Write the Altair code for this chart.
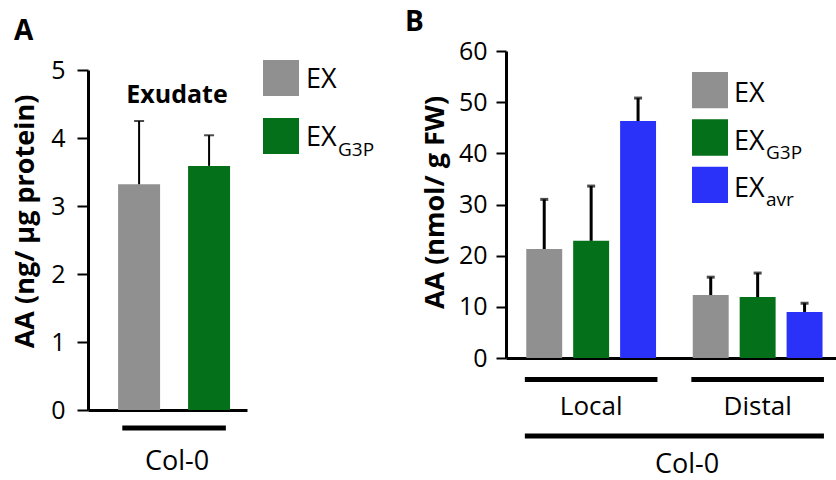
import altair as alt
import pandas as pd

# ---------------- data ----------------
A_treat = ["EX", "EX_G3P"]
A_mean = [3.32, 3.59]
A_err = [0.93, 0.45]
A_ticks = [0, 1, 2, 3, 4, 5]

B_site = ["Local", "Local", "Local", "Distal", "Distal", "Distal"]
B_treat = ["EX", "EX_G3P", "EX_avr", "EX", "EX_G3P", "EX_avr"]
B_mean = [21.3, 22.9, 46.3, 12.3, 11.9, 9.0]
B_err = [9.7, 10.7, 4.5, 3.5, 4.7, 1.7]
B_ticks = [0, 10, 20, 30, 40, 50, 60]
sites = ["Local", "Distal"]

treat_order = ["EX", "EX_G3P", "EX_avr"]
treat_colors = ["#909090", "#047019", "#2a32fa"]
leg_main = ["EX", "EX", "EX"]
leg_sub = ["", "G3P", "avr"]

FONT = "Open Sans"
BLACK = "#000000"

color = alt.Color("treat:N", scale=alt.Scale(domain=treat_order, range=treat_colors), legend=None)

# ---------------- panel A ----------------
dfA = pd.DataFrame({"treat": A_treat, "mean": A_mean, "err": A_err})

scaleAx = alt.Scale(domain=A_treat, range=[88, 247], paddingInner=0.4, paddingOuter=0.336, align=0.64)
axisAx = alt.Axis(orient="bottom", offset=-70, labels=False, ticks=False, title=None,
                  domainColor=BLACK, domainWidth=3, grid=False)
scaleAy = alt.Scale(domain=[0, 5], range=[410, 70], nice=False, zero=True)
axisAy = alt.Axis(orient="left", offset=-88, values=A_ticks, grid=False,
                  domainColor=BLACK, domainWidth=3, tickColor=BLACK, tickWidth=2, tickSize=11,
                  labelFont=FONT, labelFontSize=25, labelColor=BLACK, labelPadding=12,
                  title="AA (ng/ µg protein)", titleFont=FONT, titleFontSize=27,
                  titleFontWeight="bold", titleColor=BLACK, titleAngle=270,
                  titleX=-55, titleY=221, titleAlign="center", titleBaseline="alphabetic")


def xA(field, **kw):
    return alt.X(field, scale=scaleAx, axis=axisAx, sort=A_treat, **kw)


def yA(field):
    return alt.Y(field, scale=scaleAy, axis=axisAy)


barsA = alt.Chart(dfA).mark_bar().encode(x=xA("treat:N"), y=yA("mean:Q"), color=color)
errA = alt.Chart(dfA).transform_calculate(up="datum.mean + datum.err").mark_rule(
    color=BLACK, strokeWidth=2).encode(x=xA("treat:N"), y=yA("mean:Q"), y2="up:Q")
capA = alt.Chart(dfA).transform_calculate(up="datum.mean + datum.err").mark_tick(
    color=BLACK, size=10, thickness=2).encode(x=xA("treat:N"), y=yA("up:Q"))

underA = alt.Chart(pd.DataFrame({"s": [A_treat[0]], "e": [A_treat[-1]]})).mark_rule(
    color=BLACK, strokeWidth=5).encode(
    x=xA("s:N", bandPosition=0.1), x2=alt.X2("e:N", bandPosition=0.9), y=alt.value(428))

one = pd.DataFrame({"k": [0]})
titleA = alt.Chart(one).mark_text(text="Exudate", font=FONT, fontSize=25, fontWeight="bold",
                                  color=BLACK, align="center", baseline="alphabetic").encode(
    x=alt.value(177), y=alt.value(103))
colA = alt.Chart(one).mark_text(text="Col-0", font=FONT, fontSize=27, color=BLACK,
                                align="center", baseline="alphabetic").encode(
    x=alt.value(177), y=alt.value(470))
letA = alt.Chart(one).mark_text(text="A", font=FONT, fontSize=28, fontWeight="bold",
                                color=BLACK, align="left", baseline="alphabetic").encode(
    x=alt.value(14), y=alt.value(40))

A_main = alt.layer(barsA, errA, capA, underA, titleA, colA, letA)

# legend A
dfLA = pd.DataFrame({"treat": A_treat, "main": leg_main[:2], "sub": leg_sub[:2]})
yLA = alt.Y("treat:N", sort=A_treat, axis=None,
            scale=alt.Scale(domain=A_treat, range=[60, 154], paddingInner=0.38, paddingOuter=0))
sqA = alt.Chart(dfLA).mark_rect().encode(x=alt.value(263), x2=alt.value(299), y=yLA, color=color)
txA = alt.Chart(dfLA).mark_text(font=FONT, fontSize=27, color=BLACK, align="left",
                                baseline="middle", dy=2).encode(x=alt.value(306), y=yLA, text="main:N")
sbA = alt.Chart(dfLA).mark_text(font=FONT, fontSize=19, color=BLACK, align="left",
                                baseline="middle", dy=14).encode(x=alt.value(338), y=yLA, text="sub:N")
A_leg = alt.layer(sqA, txA, sbA)

# ---------------- panel B ----------------
dfB = pd.DataFrame({"site": B_site, "treat": B_treat, "mean": B_mean, "err": B_err})

scaleBx = alt.Scale(domain=sites, range=[506, 836], paddingInner=0.2036, paddingOuter=0.0928, align=0.61)
axisBx = alt.Axis(orient="bottom", offset=-122, labels=False, ticks=False, title=None,
                  domainColor=BLACK, domainWidth=3, grid=False)
scaleBy = alt.Scale(domain=[0, 60], range=[358, 51], nice=False, zero=True)
axisBy = alt.Axis(orient="left", offset=-506, values=B_ticks, grid=False,
                  domainColor=BLACK, domainWidth=3, tickColor=BLACK, tickWidth=2, tickSize=10,
                  labelFont=FONT, labelFontSize=25, labelColor=BLACK, labelPadding=9,
                  title="AA (nmol/ g FW)", titleFont=FONT, titleFontSize=27,
                  titleFontWeight="bold", titleColor=BLACK, titleAngle=270,
                  titleX=-63, titleY=202, titleAlign="center", titleBaseline="alphabetic")
xOffB = alt.XOffset("treat:N", sort=treat_order,
                    scale=alt.Scale(domain=treat_order, paddingInner=0.234, paddingOuter=0.03))


def xB(field, **kw):
    return alt.X(field, scale=scaleBx, axis=axisBx, sort=sites, **kw)


def yB(field):
    return alt.Y(field, scale=scaleBy, axis=axisBy)


barsB = alt.Chart(dfB).mark_bar().encode(x=xB("site:N"), xOffset=xOffB, y=yB("mean:Q"), color=color)
errB = alt.Chart(dfB).transform_calculate(up="datum.mean + datum.err").mark_rule(
    color=BLACK, strokeWidth=3).encode(x=xB("site:N"), xOffset=xOffB, y=yB("mean:Q"), y2="up:Q")
capB = alt.Chart(dfB).transform_calculate(up="datum.mean + datum.err").mark_tick(
    color=BLACK, size=8, thickness=3).encode(x=xB("site:N"), xOffset=xOffB, y=yB("up:Q"))

dfSites = pd.DataFrame({"site": sites})
underB = alt.Chart(dfSites).mark_bar(color=BLACK).encode(
    x=xB("site:N"), y=alt.value(377), y2=alt.value(382))
siteLab = alt.Chart(dfSites).mark_text(font=FONT, fontSize=26, color=BLACK, align="center",
                                       baseline="alphabetic").encode(
    x=xB("site:N"), y=alt.value(415), text="site:N")
colLineB = alt.Chart(pd.DataFrame({"s": [sites[0]], "e": [sites[-1]]})).mark_rule(
    color=BLACK, strokeWidth=5).encode(
    x=xB("s:N", bandPosition=0), x2=alt.X2("e:N", bandPosition=1), y=alt.value(436))
colB = alt.Chart(one).mark_text(text="Col-0", font=FONT, fontSize=27, color=BLACK,
                                align="center", baseline="alphabetic").encode(
    x=alt.value(687), y=alt.value(473))
letB = alt.Chart(one).mark_text(text="B", font=FONT, fontSize=28, fontWeight="bold",
                                color=BLACK, align="left", baseline="alphabetic").encode(
    x=alt.value(405), y=alt.value(31))

B_main = alt.layer(barsB, errB, capB, underB, siteLab, colLineB, colB, letB)

# legend B
dfLB = pd.DataFrame({"treat": treat_order, "main": leg_main, "sub": leg_sub})
yLB = alt.Y("treat:N", sort=treat_order, axis=None,
            scale=alt.Scale(domain=treat_order, range=[72, 203], paddingInner=0.234, paddingOuter=0))
sqB = alt.Chart(dfLB).mark_rect().encode(x=alt.value(692), x2=alt.value(728), y=yLB, color=color)
txB = alt.Chart(dfLB).mark_text(font=FONT, fontSize=27, color=BLACK, align="left",
                                baseline="middle", dy=4).encode(x=alt.value(734), y=yLB, text="main:N")
sbB = alt.Chart(dfLB).mark_text(font=FONT, fontSize=19, color=BLACK, align="left",
                                baseline="middle", dy=15).encode(x=alt.value(766), y=yLB, text="sub:N")
B_leg = alt.layer(sqB, txB, sbB)

chart = alt.layer(A_main, A_leg, B_main, B_leg).resolve_scale(
    x="independent", y="independent", xOffset="independent"
).resolve_axis(x="independent", y="independent").properties(
    width=836, height=480, autosize=alt.AutoSizeParams(type="none"), padding=0,
    background="white"
).configure_view(stroke=None)

chart.save("out.html", embed_options={"renderer": "svg", "actions": False})
